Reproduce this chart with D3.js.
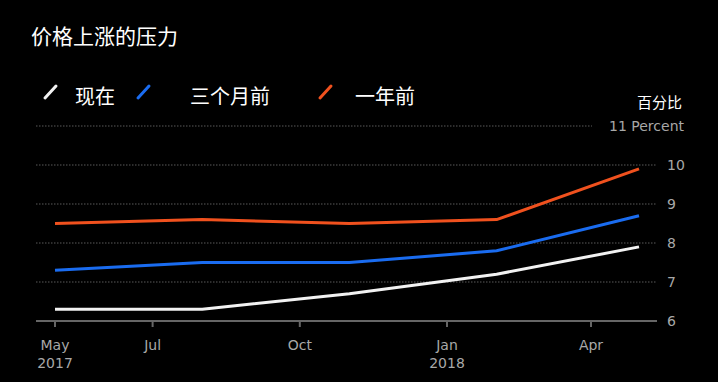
<!DOCTYPE html>
<html><head><meta charset="utf-8">
<script src="https://cdn.jsdelivr.net/npm/d3@7"></script>
<style>
html,body{margin:0;padding:0;background:#000;}
svg{display:block;}
</style></head>
<body>
<svg id="c" width="718" height="382"></svg>
<script>
const dates = ["2017-05-01","2017-08-01","2017-11-01","2018-02-01","2018-05-01"];
const seriesNames = ["现在","三个月前","一年前"];
const seriesColors = ["#f2f2f2","#1a6cf0","#f0511e"];
const nowValues = [6.3, 6.3, 6.7, 7.2, 7.9];
const threeMonthValues = [7.3, 7.5, 7.5, 7.8, 8.7];
const oneYearValues = [8.5, 8.6, 8.5, 8.6, 9.9];
const yTicks = [6,7,8,9,10,11];
const xTickDates = ["2017-05-01","2017-07-01","2017-10-01","2018-01-01","2018-04-01"];
const xTickLabels = [["May","2017"],["Jul"],["Oct"],["Jan","2018"],["Apr"]];
const title = "价格上涨的压力";
const unitLabel = "百分比";

const parse = d3.utcParse("%Y-%m-%d");
const svg = d3.select("#c");
const cjk = "'Noto Sans CJK SC','Noto Sans',sans-serif";
const latin = "'DejaVu Sans',sans-serif";

const x = d3.scaleUtc().domain([parse("2017-05-01"), parse("2018-05-01")]).range([55, 639]);
const y = d3.scaleLinear().domain([6, 11]).range([321, 126]);
const gridLeft = 36, gridRight = 657;

svg.append("text").attr("x", 31).attr("y", 44).text(title)
  .attr("fill", "#fff").attr("font-family", cjk).attr("font-size", 21);

// legend
const legendPos = [{sx:45, tx:75},{sx:138, tx:190},{sx:320, tx:355}];
seriesNames.forEach((n,i)=>{
  const p = legendPos[i];
  svg.append("line").attr("x1", p.sx).attr("y1", 98).attr("x2", p.sx+11).attr("y2", 86)
    .attr("stroke", seriesColors[i]).attr("stroke-width", 3).attr("stroke-linecap","round");
  svg.append("text").attr("x", p.tx).attr("y", 104).text(n)
    .attr("fill", "#fff").attr("font-family", cjk).attr("font-size", 20);
});

svg.append("text").attr("x", 682).attr("y", 108).attr("text-anchor","end").text(unitLabel)
  .attr("fill", "#fff").attr("font-family", cjk).attr("font-size", 15);

// gridlines
yTicks.filter(t=>t>6).forEach(t=>{
  svg.append("line").attr("x1", gridLeft).attr("x2", t===11 ? 592 : gridRight)
    .attr("y1", y(t)).attr("y2", y(t))
    .attr("stroke", "#5a5a5a").attr("stroke-width", 1.2).attr("stroke-dasharray","1.5,1.5");
});
// y labels
yTicks.forEach(t=>{
  if (t===11) {
    svg.append("text").attr("x", 684).attr("y", y(t)+5).attr("text-anchor","end")
      .text(t + " Percent").attr("fill","#a8a8a8").attr("font-family", latin).attr("font-size", 14);
  } else {
    svg.append("text").attr("x", 667).attr("y", y(t)+5).text(t)
      .attr("fill","#a8a8a8").attr("font-family", latin).attr("font-size", 14);
  }
});

// x axis
svg.append("line").attr("x1", gridLeft).attr("x2", gridRight).attr("y1", y(6)).attr("y2", y(6))
  .attr("stroke", "#666").attr("stroke-width", 2);
xTickDates.forEach((d,i)=>{
  const xx = x(parse(d));
  svg.append("line").attr("x1", xx).attr("x2", xx).attr("y1", y(6)).attr("y2", y(6)+6)
    .attr("stroke","#666").attr("stroke-width", 2);
  xTickLabels[i].forEach((s,j)=>{
    svg.append("text").attr("x", xx).attr("y", 350 + j*18).attr("text-anchor","middle").text(s)
      .attr("fill","#a8a8a8").attr("font-family", latin).attr("font-size", 14);
  });
});

// lines
const all = [nowValues, threeMonthValues, oneYearValues];
const line = d3.line().x((d,i)=>x(parse(dates[i]))).y(d=>y(d));
[2,1,0].forEach(i=>{
  svg.append("path").attr("d", line(all[i])).attr("fill","none")
    .attr("stroke", seriesColors[i]).attr("stroke-width", 3).attr("stroke-linejoin","round");
});
</script>
</body></html>
